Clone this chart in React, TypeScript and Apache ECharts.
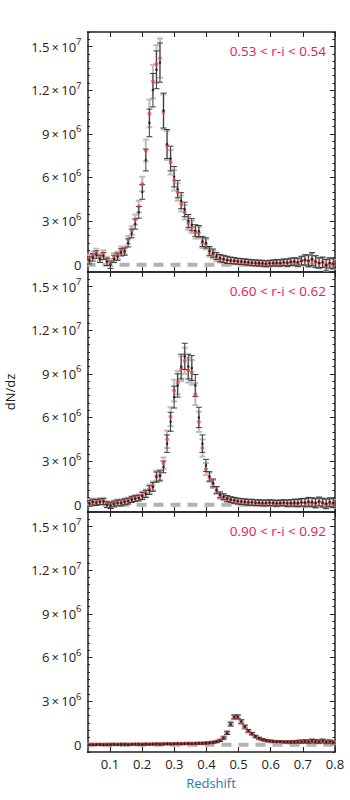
import React, { useEffect, useRef } from "react";
import * as echarts from "echarts";

// Redshift bin centres (70 bins of 0.011 between 0.03 and 0.80)
const redshift = [
  0.0355, 0.0465, 0.0575, 0.0685, 0.0795, 0.0905, 0.1015, 0.1125, 0.1235, 0.1345,
  0.1455, 0.1565, 0.1675, 0.1785, 0.1895, 0.2005, 0.2115, 0.2225, 0.2335, 0.2445,
  0.2555, 0.2665, 0.2775, 0.2885, 0.2995, 0.3105, 0.3215, 0.3325, 0.3435, 0.3545,
  0.3655, 0.3765, 0.3875, 0.3985, 0.4095, 0.4205, 0.4315, 0.4425, 0.4535, 0.4645,
  0.4755, 0.4865, 0.4975, 0.5085, 0.5195, 0.5305, 0.5415, 0.5525, 0.5635, 0.5745,
  0.5855, 0.5965, 0.6075, 0.6185, 0.6295, 0.6405, 0.6515, 0.6625, 0.6735, 0.6845,
  0.6955, 0.7065, 0.7175, 0.7285, 0.7395, 0.7505, 0.7615, 0.7725, 0.7835, 0.7945,
];

// values in units of 10^6
const panel1Red = [
  0.45, 0.65, 0.85, 0.5, 0.75, 0.3, 0.15, 0.55, 0.65, 1.0,
  1.0, 1.7, 2.35, 3.1, 4.0, 5.55, 7.85, 10.4, 12.6, 13.8,
  14.2, 10.5, 8.2, 7.05, 5.8, 5.0, 4.2, 3.6, 2.85, 2.6,
  2.2, 2.2, 1.5, 1.4, 0.85, 0.7, 0.5, 0.4, 0.35, 0.3,
  0.28, 0.25, 0.22, 0.2, 0.18, 0.15, 0.12, 0.1, 0.1, 0.08,
  0.05, 0.08, 0.1, 0.12, 0.1, 0.15, 0.12, 0.18, 0.2, 0.15,
  0.25, 0.3, 0.25, 0.35, 0.2, 0.1, 0.15, -0.05, 0.1, 0.05,
];
const panel1Black = [
  0.3, 0.5, 0.7, 0.4, 0.6, 0.2, 0.0, 0.4, 0.55, 0.85,
  0.9, 1.5, 2.15, 2.8, 3.6, 5.0, 7.2, 9.75, 12.0, 13.4,
  13.9, 10.6, 8.3, 7.3, 6.05, 5.2, 4.4, 3.8, 3.0, 2.75,
  2.35, 2.3, 1.6, 1.5, 0.95, 0.8, 0.6, 0.45, 0.4, 0.33,
  0.3, 0.27, 0.24, 0.22, 0.2, 0.17, 0.14, 0.12, 0.11, 0.1,
  0.07, 0.1, 0.12, 0.13, 0.12, 0.17, 0.14, 0.2, 0.22, 0.17,
  0.28, 0.33, 0.27, 0.38, 0.22, 0.12, 0.17, -0.03, 0.12, 0.07,
];
const panel1Err = [
  0.25, 0.25, 0.25, 0.25, 0.25, 0.25, 0.25, 0.25, 0.25, 0.25,
  0.25, 0.28, 0.3, 0.35, 0.4, 0.5, 0.75, 0.95, 1.15, 1.3,
  1.35, 1.2, 1.0, 0.85, 0.7, 0.6, 0.55, 0.5, 0.45, 0.42,
  0.4, 0.4, 0.35, 0.35, 0.3, 0.28, 0.25, 0.25, 0.25, 0.25,
  0.22, 0.22, 0.2, 0.2, 0.2, 0.2, 0.2, 0.2, 0.2, 0.2,
  0.2, 0.2, 0.2, 0.22, 0.22, 0.22, 0.25, 0.25, 0.25, 0.28,
  0.3, 0.35, 0.4, 0.45, 0.4, 0.35, 0.35, 0.4, 0.35, 0.35,
];

const panel2Red = [
  0.16, 0.22, 0.2, 0.25, 0.28, 0.05, -0.02, 0.09, 0.16, 0.16,
  0.23, 0.28, 0.39, 0.46, 0.5, 0.65, 0.8, 1.08, 1.3, 2.0,
  2.05, 2.85, 4.5, 6.05, 7.85, 8.4, 9.35, 9.9, 9.25, 9.1,
  7.6, 5.7, 3.9, 2.45, 1.88, 1.42, 0.97, 0.62, 0.5, 0.39,
  0.32, 0.28, 0.22, 0.2, 0.18, 0.15, 0.15, 0.12, 0.12, 0.1,
  0.1, 0.12, 0.1, 0.08, 0.1, 0.12, 0.08, 0.1, 0.12, 0.1,
  0.15, 0.12, 0.18, 0.15, 0.1, 0.2, 0.12, 0.05, 0.15, 0.1,
];
const panel2Black = [
  0.1, 0.18, 0.15, 0.2, 0.22, 0.0, -0.06, 0.05, 0.12, 0.12,
  0.2, 0.25, 0.35, 0.42, 0.46, 0.6, 0.74, 1.0, 1.22, 1.9,
  1.98, 2.6, 4.2, 5.7, 7.4, 8.2, 9.5, 10.2, 9.5, 9.4,
  8.2, 6.0, 4.2, 2.7, 1.95, 1.5, 1.02, 0.68, 0.55, 0.43,
  0.35, 0.3, 0.25, 0.22, 0.2, 0.17, 0.17, 0.14, 0.14, 0.12,
  0.12, 0.14, 0.12, 0.1, 0.12, 0.14, 0.1, 0.12, 0.14, 0.12,
  0.17, 0.14, 0.2, 0.17, 0.12, 0.22, 0.14, 0.07, 0.17, 0.12,
];
const panel2Err = [
  0.2, 0.2, 0.2, 0.2, 0.2, 0.2, 0.2, 0.2, 0.2, 0.2,
  0.2, 0.2, 0.2, 0.2, 0.2, 0.25, 0.25, 0.3, 0.3, 0.35,
  0.35, 0.4, 0.6, 0.65, 0.75, 0.8, 0.85, 0.9, 0.85, 0.85,
  0.75, 0.7, 0.6, 0.42, 0.32, 0.27, 0.23, 0.2, 0.2, 0.2,
  0.2, 0.2, 0.2, 0.2, 0.2, 0.2, 0.2, 0.2, 0.2, 0.2,
  0.2, 0.2, 0.2, 0.2, 0.2, 0.2, 0.22, 0.22, 0.24, 0.25,
  0.26, 0.28, 0.3, 0.3, 0.32, 0.3, 0.3, 0.32, 0.3, 0.3,
];

const panel3Red = [
  0.02, 0.01, 0.02, 0.02, 0.01, 0.02, 0.02, 0.03, 0.02, 0.03,
  0.03, 0.02, 0.03, 0.04, 0.04, 0.03, 0.05, 0.04, 0.05, 0.06,
  0.05, 0.06, 0.07, 0.06, 0.07, 0.08, 0.07, 0.08, 0.09, 0.08,
  0.09, 0.1, 0.1, 0.12, 0.14, 0.17, 0.22, 0.3, 0.5, 0.85,
  1.47, 1.93, 1.88, 1.54, 1.2, 0.92, 0.74, 0.55, 0.43, 0.34,
  0.28, 0.24, 0.22, 0.2, 0.2, 0.18, 0.18, 0.17, 0.18, 0.2,
  0.2, 0.22, 0.2, 0.25, 0.22, 0.2, 0.25, 0.18, 0.2, 0.15,
];
const panel3Black = [
  0.0, 0.0, 0.01, 0.01, 0.0, 0.01, 0.01, 0.02, 0.01, 0.02,
  0.02, 0.01, 0.02, 0.03, 0.03, 0.02, 0.04, 0.03, 0.04, 0.05,
  0.04, 0.05, 0.06, 0.05, 0.06, 0.07, 0.06, 0.07, 0.08, 0.07,
  0.08, 0.09, 0.09, 0.11, 0.13, 0.16, 0.2, 0.28, 0.46, 0.8,
  1.4, 1.9, 1.92, 1.6, 1.25, 0.96, 0.77, 0.58, 0.45, 0.36,
  0.3, 0.26, 0.23, 0.21, 0.21, 0.19, 0.19, 0.18, 0.19, 0.21,
  0.21, 0.23, 0.21, 0.26, 0.23, 0.21, 0.26, 0.19, 0.21, 0.16,
];
const panel3Err = [
  0.05, 0.05, 0.05, 0.05, 0.05, 0.05, 0.05, 0.05, 0.05, 0.05,
  0.05, 0.05, 0.05, 0.05, 0.05, 0.05, 0.05, 0.05, 0.05, 0.05,
  0.05, 0.05, 0.05, 0.05, 0.05, 0.05, 0.05, 0.05, 0.05, 0.05,
  0.05, 0.06, 0.06, 0.06, 0.06, 0.06, 0.06, 0.06, 0.08, 0.1,
  0.12, 0.13, 0.13, 0.12, 0.1, 0.09, 0.08, 0.07, 0.06, 0.06,
  0.06, 0.06, 0.06, 0.06, 0.06, 0.06, 0.08, 0.08, 0.09, 0.09,
  0.1, 0.1, 0.11, 0.12, 0.12, 0.11, 0.12, 0.12, 0.11, 0.1,
];

const panelLabels = ["0.53 < r-i < 0.54", "0.60 < r-i < 0.62", "0.90 < r-i < 0.92"];
const xTicks = [0.1, 0.2, 0.3, 0.4, 0.5, 0.6, 0.7, 0.8];
const yTickValues = [0, 3, 6, 9, 12, 15]; // in 10^6
const yTickMantissa = ["0", "3", "6", "9", "1.2", "1.5"];
const yTickExponent = ["", "6", "6", "6", "7", "7"];
const xAxisTitle = "Redshift";
const yAxisTitle = "dN/dz";

const panels = [
  { red: panel1Red, black: panel1Black, err: panel1Err },
  { red: panel2Red, black: panel2Black, err: panel2Err },
  { red: panel3Red, black: panel3Black, err: panel3Err },
];

const X_MIN = 0.03;
const X_MAX = 0.8;
const Y_MIN = -0.5;
const Y_MAX = 16;
const GRID_LEFT = 87.5;
const GRID_WIDTH = 247.5;
const GRID_TOP = 32;
const GRID_H = 240;
const FONT = "'Open Sans', 'Noto Sans', sans-serif";
const AXIS_COLOR = "#222";

function errorBarSeries(data: number[][], p: number, color: string, width: number, z: number) {
  return {
    type: "custom",
    xAxisIndex: 2 * p,
    yAxisIndex: 4 * p,
    clip: true,
    silent: true,
    z,
    encode: { x: 0, y: [1, 2] },
    data,
    renderItem: (params: any, api: any) => {
      const x = api.value(0);
      const lo = api.value(1);
      const hi = api.value(2);
      const top = api.coord([x, hi]);
      const bot = api.coord([x, lo]);
      const hw = 3;
      const style = { stroke: color, lineWidth: width };
      return {
        type: "group",
        children: [
          { type: "line", shape: { x1: top[0], y1: top[1], x2: bot[0], y2: bot[1] }, style },
          { type: "line", shape: { x1: top[0] - hw, y1: top[1], x2: top[0] + hw, y2: top[1] }, style },
          { type: "line", shape: { x1: bot[0] - hw, y1: bot[1], x2: bot[0] + hw, y2: bot[1] }, style },
        ],
      };
    },
  };
}

export default function App() {
  const ref = useRef<HTMLDivElement>(null);
  useEffect(() => {
    document.body.style.margin = "0";
    if (!ref.current) return;
    const chart = echarts.init(ref.current, undefined, { renderer: "svg" });

    const minorVals: number[] = [];
    for (let k = -1; k <= 32; k++) minorVals.push(k * 0.5);

    const grids: any[] = [];
    const xAxes: any[] = [];
    const yAxes: any[] = [];
    const series: any[] = [];
    const titles: any[] = [];

    const lineStyle = { color: AXIS_COLOR, width: 1.5 };
    const tickStyle = { color: AXIS_COLOR, width: 1 };

    const yFormatter = (v: number) => {
      const k = yTickValues.findIndex((t) => Math.abs(t - v) < 1e-9);
      if (k < 0) return "";
      if (!yTickExponent[k]) return `{b|${yTickMantissa[k]}}`;
      return `{b|${yTickMantissa[k]}\u2009×\u200910}{s|${yTickExponent[k]}}`;
    };

    panels.forEach((pd, p) => {
      grids.push({ left: GRID_LEFT, width: GRID_WIDTH, top: GRID_TOP + p * GRID_H, height: GRID_H });
      ["bottom", "top"].forEach((pos) => {
        xAxes.push({
          type: "value",
          gridIndex: p,
          min: X_MIN,
          max: X_MAX,
          position: pos,
          axisLine: { show: true, onZero: false, lineStyle },
          axisTick: { show: true, inside: true, length: 5, customValues: xTicks, lineStyle: tickStyle },
          axisLabel: {
            show: p === 2 && pos === "bottom",
            customValues: xTicks,
            margin: 5,
            fontSize: 13,
            color: AXIS_COLOR,
            fontFamily: FONT,
            formatter: (v: number) => v.toFixed(1),
          },
          splitLine: { show: false },
        });
      });
      ["left", "right"].forEach((side) => {
        yAxes.push({
          type: "value",
          gridIndex: p,
          min: Y_MIN,
          max: Y_MAX,
          position: side,
          axisLine: { show: true, onZero: false, lineStyle },
          axisTick: { show: true, inside: true, length: 5, customValues: yTickValues, lineStyle: tickStyle },
          axisLabel: {
            show: side === "left",
            customValues: yTickValues,
            margin: 6,
            formatter: yFormatter,
            rich: {
              b: { fontSize: 13, color: AXIS_COLOR, fontFamily: FONT },
              s: { fontSize: 9.5, color: AXIS_COLOR, fontFamily: FONT, padding: [0, 0, 10, 0] },
            },
          },
          splitLine: { show: false },
        });
        yAxes.push({
          type: "value",
          gridIndex: p,
          min: Y_MIN,
          max: Y_MAX,
          position: side,
          axisLine: { show: false },
          axisTick: { show: true, inside: true, length: 2.5, customValues: minorVals, lineStyle: tickStyle },
          axisLabel: { show: false },
          splitLine: { show: false },
        });
      });

      titles.push({
        text: panelLabels[p],
        right: 350 - 326,
        top: 44 + p * GRID_H,
        padding: 0,
        textStyle: { color: "#e8175d", fontSize: 13.5, fontWeight: "normal", fontFamily: FONT },
      });

      series.push({
        type: "line",
        xAxisIndex: 2 * p,
        yAxisIndex: 4 * p,
        data: [
          [X_MIN, 0],
          [X_MAX, 0],
        ],
        symbol: "none",
        silent: true,
        z: 1,
        lineStyle: { color: "#b3b3b3", width: 4, type: [10, 7], dashOffset: 2 },
      });
      series.push(
        errorBarSeries(
          redshift.map((zv, i) => [zv, pd.red[i] - pd.err[i], pd.red[i] + pd.err[i]]),
          p,
          "#bdbdbd",
          2,
          2
        )
      );
      series.push(
        errorBarSeries(
          redshift.map((zv, i) => [zv, pd.black[i] - pd.err[i], pd.black[i] + pd.err[i]]),
          p,
          "#3a3a3a",
          1,
          3
        )
      );
      series.push({
        type: "scatter",
        xAxisIndex: 2 * p,
        yAxisIndex: 4 * p,
        data: redshift.map((zv, i) => [zv, pd.red[i]]),
        symbol: "circle",
        symbolSize: 4,
        silent: true,
        z: 4,
        itemStyle: { color: "rgba(232,60,60,0.85)" },
      });
      series.push({
        type: "scatter",
        xAxisIndex: 2 * p,
        yAxisIndex: 4 * p,
        data: redshift.map((zv, i) => [zv, pd.black[i]]),
        symbol: "circle",
        symbolSize: 2.5,
        silent: true,
        z: 5,
        itemStyle: { color: "#111" },
      });
    });

    const option: any = {
      animation: false,
      backgroundColor: "#fff",
      textStyle: { fontFamily: FONT },
      title: titles,
      grid: grids,
      xAxis: xAxes,
      yAxis: yAxes,
      series,
      graphic: [
        {
          type: "text",
          x: 211,
          y: 783,
          style: {
            text: xAxisTitle,
            fill: "#1f77b4",
            fontSize: 13,
            fontFamily: FONT,
            textAlign: "center",
            textVerticalAlign: "middle",
          },
        },
        {
          type: "text",
          x: 10,
          y: 392,
          rotation: Math.PI / 2,
          style: {
            text: yAxisTitle,
            fill: AXIS_COLOR,
            fontSize: 13,
            fontFamily: FONT,
            textAlign: "center",
            textVerticalAlign: "middle",
          },
        },
      ],
    };
    chart.setOption(option);
    return () => chart.dispose();
  }, []);
  return <div ref={ref} style={{ width: 350, height: 800 }} />;
}
